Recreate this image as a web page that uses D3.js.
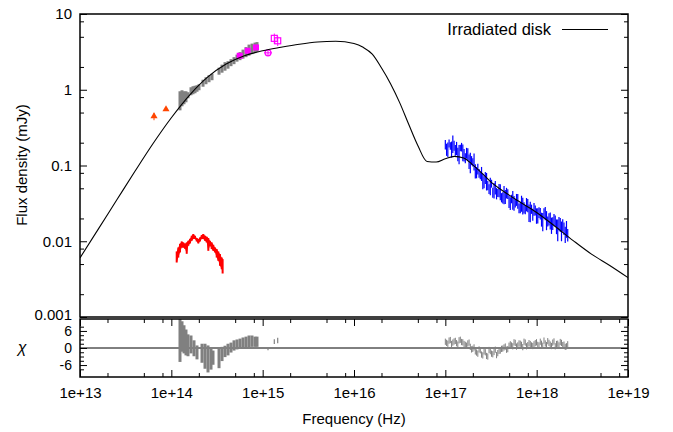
<!DOCTYPE html>
<html><head><meta charset="utf-8">
<script src="https://cdn.jsdelivr.net/npm/d3@7"></script>
<style>
body{margin:0;background:#fff}
text{font-family:"Liberation Sans",Arial,Helvetica,sans-serif}
</style>
</head><body>
<svg id="c" width="673" height="432"></svg>
<script>
// ---------- data ----------
const modelNu = [1e13,1.585e13,2.512e13,3.981e13,6.310e13,1e14,1.585e14,2.512e14,3.981e14,6.310e14,1e15,1.585e15,2.512e15,3.981e15,6.310e15,1e16,1.259e16,1.585e16,1.995e16,2.512e16,3.162e16,3.981e16,5.012e16,6.310e16,7.943e16,1e17,1.259e17,1.585e17,1.995e17,2.512e17,3.162e17,3.981e17,6.310e17,1e18,1.585e18,2.512e18,3.981e18,6.310e18,1e19];
const modelF = [0.00603,0.01445,0.0347,0.0832,0.195,0.427,0.851,1.479,2.188,2.818,3.273,3.631,3.981,4.266,4.365,4.074,3.631,2.951,1.950,1.202,0.676,0.347,0.182,0.113,0.111,0.123,0.132,0.126,0.102,0.0794,0.0603,0.0490,0.0339,0.0240,0.0158,0.0102,0.00676,0.00479,0.00331];

const orangeNu = [6.46e13, 8.74e13];
const orangeF = [0.446, 0.552];
const orangeErr = [0.05, 0.02];

const redNu = [1.145e14,1.192e14,1.244e14,1.299e14,1.352e14,1.412e14,1.474e14,1.534e14,1.601e14,1.671e14,1.740e14,1.816e14,1.896e14,1.974e14,2.061e14,2.151e14,2.239e14,2.337e14,2.440e14,2.540e14,2.651e14,2.767e14,2.881e14,3.007e14,3.139e14,3.269e14,3.412e14,3.561e14,3.644e14];
const redLo = [0.00524,0.00610,0.00711,0.00828,0.00828,0.00796,0.00683,0.00872,0.00935,0.01015,0.01069,0.01069,0.00994,0.00935,0.00994,0.01069,0.01069,0.01015,0.00964,0.00748,0.00872,0.00788,0.00748,0.00711,0.00610,0.00552,0.00474,0.00428,0.00375];
const redHi = [0.00733,0.00828,0.00927,0.00994,0.00964,0.00927,0.00964,0.01015,0.01079,0.01183,0.01246,0.01183,0.01102,0.01069,0.01123,0.01208,0.01246,0.01183,0.01147,0.01102,0.01015,0.00964,0.00899,0.00828,0.00788,0.00733,0.00677,0.00610,0.00581];

const grayNu = [1.244e14,1.309e14,1.376e14,1.447e14,1.522e14,1.642e14,1.727e14,1.816e14,1.910e14,2.009e14,2.223e14,2.396e14,2.585e14,2.788e14,3.327e14,3.589e14,3.869e14,4.173e14,4.501e14,4.856e14,5.236e14,5.648e14,6.093e14,6.571e14,7.087e14,7.643e14,8.245e14,8.670e14];
const grayLo = [0.535,0.605,0.643,0.683,0.772,0.846,0.872,0.899,0.941,0.985,1.096,1.183,1.257,1.336,1.580,1.680,1.785,1.897,2.048,2.177,2.349,2.458,2.574,2.694,2.820,2.953,3.044,3.140];
const grayHi = [0.955,0.985,0.955,0.955,0.927,1.079,1.113,1.130,1.147,1.183,1.357,1.464,1.556,1.629,1.956,2.144,2.313,2.385,2.535,2.694,2.908,3.140,3.387,3.656,3.945,4.068,4.193,4.258];

const magFilledNu = [5.605e14, 6.859e14, 8.456e14];
const magFilledF = [2.81, 3.27, 3.62];
const magFilledErr = [0.12, 0.15, 0.15];
const magCircleNu = [1.144e15];
const magCircleF = [3.07];
const magCircleErr = [0.25];
const magOpenNu = [1.341e15, 1.461e15];
const magOpenF = [4.77, 4.43];
const magOpenErr = [0.75, 0.65];

const xrayNu = [1.000e17,1.065e17,1.134e17,1.208e17,1.287e17,1.370e17,1.459e17,1.554e17,1.655e17,1.763e17,1.877e17,1.999e17,2.129e17,2.268e17,2.415e17,2.572e17,2.739e17,2.917e17,3.107e17,3.309e17,3.524e17,3.753e17,3.997e17,4.257e17,4.533e17,4.828e17,5.142e17,5.476e17,5.832e17,6.211e17,6.615e17,7.045e17,7.503e17,7.990e17,8.510e17,9.063e17,9.652e17,1.028e18,1.095e18,1.166e18,1.242e18,1.322e18,1.408e18,1.500e18,1.597e18,1.701e18,1.812e18,1.929e18,2.055e18,2.188e18,
 1.032e17,1.099e17,1.170e17,1.247e17,1.328e17,1.414e17,1.506e17,1.604e17,1.708e17,1.819e17,1.937e17,2.063e17,2.197e17,2.341e17,2.492e17,2.654e17,2.827e17,3.010e17,3.206e17,3.415e17,3.637e17,3.873e17,4.125e17,4.393e17,4.678e17,4.982e17,5.307e17,5.651e17,6.019e17,6.410e17,6.827e17,7.270e17,7.743e17,8.246e17,8.782e17,9.353e17,9.961e17,1.061e18,1.130e18,1.203e18,1.282e18,1.364e18,1.453e18,1.548e18,1.648e18,1.755e18,1.870e18,1.991e18,2.121e18];
const xrayF = [.190,.165,.182,.197,.160,.143,.171,.152,.126,.143,.113,.111,.0855,.0908,.0738,.0633,.0694,.0546,.0548,.0441,.0518,.0437,.0456,.0379,.0392,.0423,.0320,.0361,.0319,.0345,.0280,.0300,.0264,.0301,.0255,.0228,.0257,.0222,.0234,.0186,.0236,.0184,.0191,.0174,.0188,.0147,.0167,.0165,.0125,.0122,
 .164,.197,.167,.184,.171,.145,.176,.139,.147,.115,.117,.115,.0816,.0794,.0791,.0612,.0633,.0493,.0579,.0477,.0430,.0475,.0379,.0422,.0437,.0338,.0364,.0324,.0357,.0275,.0322,.0279,.0310,.0243,.0267,.0268,.0221,.0242,.0197,.0237,.0195,.0198,.0165,.0196,.0159,.0174,.0141,.0149,.0148];
const xrayErr = [.027,.036,.020,.051,.026,.029,.017,.038,.019,.026,.034,.014,.018,.0145,.0081,.0146,.0125,.0076,.0142,.0066,.0104,.0052,.0109,.0064,.0082,.0063,.0061,.0101,.0041,.0076,.0045,.0075,.0037,.0060,.0077,.0041,.0039,.0051,.0040,.0050,.0047,.0028,.0048,.0033,.0030,.0047,.0035,.0030,.0030,.0023,
 .030,.024,.040,.028,.034,.041,.023,.026,.024,.025,.016,.029,.0139,.0103,.0166,.0110,.0165,.0074,.0069,.0110,.0073,.0095,.0053,.0114,.0070,.0064,.0047,.0071,.0064,.0041,.0077,.0047,.0062,.0063,.0037,.0051,.0051,.0039,.0041,.0036,.0055,.0036,.0040,.0033,.0035,.0035,.0041,.0028,.0037];
const xrayChi = [2.2,1.5,2.8,1.9,2.5,1.2,2.9,2.0,1.1,1.6,0.4,-0.3,-1.2,-2.0,-0.8,-2.6,-1.5,-3.0,-1.1,-2.2,-0.6,-1.8,-0.9,-0.2,0.5,-0.4,1.3,0.6,1.8,0.9,1.5,0.3,1.9,1.0,1.4,0.7,1.7,1.1,2.2,0.8,1.6,2.4,1.2,1.9,0.6,1.5,2.1,1.0,0.4,1.3,
 1.8,2.6,1.4,2.3,1.7,2.7,2.1,1.4,0.8,1.9,-0.5,0.2,-1.6,-0.5,-2.3,-1.2,-2.8,-0.7,-2.0,-1.4,-2.5,-1.0,-0.3,0.2,-0.6,0.8,0.9,2.0,0.5,1.6,1.1,2.2,0.6,1.7,0.9,1.3,2.0,0.9,1.5,2.6,1.0,1.8,0.7,2.3,1.4,0.9,1.8,1.2,0.6];

const residOptNu = [1.244e14,1.309e14,1.376e14,1.447e14,1.522e14,1.642e14,1.771e14,1.910e14,2.167e14,2.337e14,2.520e14,2.719e14,2.860e14,3.327e14,3.589e14,3.869e14,4.173e14,4.501e14,4.856e14,5.236e14,5.648e14,6.093e14,6.571e14,7.087e14,7.643e14,8.245e14,8.670e14];
const residOptLo = [-4.9,-1.3,-1.9,-2.6,-2.9,-1.9,-2.9,-4.0,-5.2,-7.3,-8.6,-7.6,-5.9,-7.1,-4.6,-3.2,-2.6,-1.6,-0.9,-0.5,-0.2,0.1,0.1,0.1,0.4,0.4,0.4];
const residOptHi = [10.2,9.4,8.0,6.5,4.8,4.4,2.7,0.9,1.5,1.5,0.9,-0.2,-0.9,0.1,0.4,0.8,1.5,1.9,2.7,3.0,3.3,3.7,4.0,4.4,4.4,4.0,4.0];
const residMagNu = [1.144e15, 1.341e15, 1.461e15];
const residMagLo = [-0.8, 1.4, 1.7];
const residMagHi = [0.3, 3.1, 3.6];

const xTicks = [1e13,1e14,1e15,1e16,1e17,1e18,1e19];
const xTickLabels = ["1e+13","1e+14","1e+15","1e+16","1e+17","1e+18","1e+19"];
const yTicks = [10,1,0.1,0.01,0.001];
const yTickLabels = ["10","1","0.1","0.01","0.001"];
const chiTicks = [6,0,-6];
const chiTickLabels = ["6","0","-6"];
const chiMinor = [-7.5,-4.5,-3,-1.5,1.5,3,4.5,7.5];
const legendLabel = "Irradiated disk";

// ---------- layout ----------
const L=80,R=628,T=14,MB=317,RT=319,RB=377;
const FONT = 15;
const svg = d3.select("#c");
const x = d3.scaleLog().domain([1e13,1e19]).range([L,R]);
const y = d3.scaleLog().domain([0.001,10]).range([MB,T]);
const yc = d3.scaleLinear().domain([-10.2,10.2]).range([RB,RT]);

const xMinor = [], yMinor = [];
[13,14,15,16,17,18].forEach(d=>[2,5,8].forEach(m=>xMinor.push(m*Math.pow(10,d))));
[-3,-2,-1,0].forEach(d=>[2,5,8].forEach(m=>yMinor.push(m*Math.pow(10,d))));

function ax(axis, tx, ty){
  const g = svg.append("g").attr("transform",`translate(${tx},${ty})`).call(axis);
  g.select(".domain").remove();
  g.selectAll("line").attr("stroke","#000").attr("stroke-width",1);
  g.selectAll("text").attr("font-size",FONT).attr("fill","#000")
   .attr("font-family",'"Liberation Sans",Arial,sans-serif');
  return g;
}
const gy = ax(d3.axisLeft(y).tickValues(yTicks).tickFormat((d,i)=>yTickLabels[i]).tickSize(-7).tickPadding(8), L, 0);
gy.selectAll("text").filter(d=>d===0.001).attr("dy","0.18em");
ax(d3.axisLeft(y).tickValues(yMinor).tickFormat("").tickSize(-4), L, 0);
ax(d3.axisRight(y).tickValues(yTicks).tickFormat("").tickSize(-7), R, 0);
ax(d3.axisRight(y).tickValues(yMinor).tickFormat("").tickSize(-4), R, 0);
ax(d3.axisBottom(x).tickValues(xTicks).tickFormat((d,i)=>xTickLabels[i]).tickSize(-7).tickPadding(10), 0, RB);
ax(d3.axisBottom(x).tickValues(xMinor).tickFormat("").tickSize(-4), 0, RB);
ax(d3.axisTop(x).tickValues(xTicks).tickFormat("").tickSize(-7), 0, RT);
ax(d3.axisTop(x).tickValues(xMinor).tickFormat("").tickSize(-4), 0, RT);
const gc = ax(d3.axisLeft(yc).tickValues(chiTicks).tickFormat((d,i)=>chiTickLabels[i]).tickSize(-7).tickPadding(8), L, 0);
gc.selectAll("text").attr("font-size",14);
ax(d3.axisLeft(yc).tickValues(chiMinor).tickFormat("").tickSize(-4), L, 0);
ax(d3.axisRight(yc).tickValues(chiTicks).tickFormat("").tickSize(-7), R, 0);
ax(d3.axisRight(yc).tickValues(chiMinor).tickFormat("").tickSize(-4), R, 0);

svg.append("line").attr("x1",L).attr("x2",R).attr("y1",yc(0)).attr("y2",yc(0)).attr("stroke","#000").attr("stroke-width",1);

svg.append("clipPath").attr("id","clipMain").append("rect").attr("x",L).attr("y",T).attr("width",R-L).attr("height",MB-T);
svg.append("clipPath").attr("id","clipRes").append("rect").attr("x",L).attr("y",RT).attr("width",R-L).attr("height",RB-RT);
const gm = svg.append("g").attr("clip-path","url(#clipMain)");
const gr = svg.append("g").attr("clip-path","url(#clipRes)");

function vbars(g, nu, lo, hi, color, w, scaleY){
  g.append("g").selectAll("line").data(nu).join("line")
    .attr("x1",d=>x(d)).attr("x2",d=>x(d))
    .attr("y1",(d,i)=>scaleY(lo[i])).attr("y2",(d,i)=>scaleY(hi[i]))
    .attr("stroke",color).attr("stroke-width",w);
}

// red spectrum
gm.append("path").datum(redNu).attr("fill","#ff0000")
  .attr("d", d3.area().x(d=>x(d)).y0((d,i)=>y(redLo[i])).y1((d,i)=>y(redHi[i])));
vbars(gm, redNu, redLo, redHi, "#ff0000", 2, y);

// gray optical/NIR
vbars(gm, grayNu, grayLo, grayHi, "#808080", 3, y);

// orange triangles
vbars(gm, orangeNu, orangeNu.map((d,i)=>orangeF[i]-orangeErr[i]), orangeNu.map((d,i)=>orangeF[i]+orangeErr[i]), "#ff4500", 1, y);
gm.append("g").selectAll("path").data(orangeNu).join("path")
  .attr("transform",(d,i)=>`translate(${x(d)},${y(orangeF[i])})`)
  .attr("d", d3.symbol(d3.symbolTriangle, 22)).attr("fill","#ff4500");

// magenta
const MAG = "#ff00ff";
vbars(gm, magFilledNu, magFilledNu.map((d,i)=>magFilledF[i]-magFilledErr[i]), magFilledNu.map((d,i)=>magFilledF[i]+magFilledErr[i]), MAG, 1, y);
gm.append("g").selectAll("rect").data(magFilledNu).join("rect")
  .attr("x",d=>x(d)-3).attr("y",(d,i)=>y(magFilledF[i])-3).attr("width",6).attr("height",6).attr("fill",MAG);
vbars(gm, magCircleNu, magCircleNu.map((d,i)=>magCircleF[i]-magCircleErr[i]), magCircleNu.map((d,i)=>magCircleF[i]+magCircleErr[i]), MAG, 1, y);
gm.append("g").selectAll("circle").data(magCircleNu).join("circle")
  .attr("cx",d=>x(d)).attr("cy",(d,i)=>y(magCircleF[i])).attr("r",3).attr("fill","none").attr("stroke",MAG).attr("stroke-width",1.2);
gm.append("g").selectAll("line").data(magCircleNu).join("line")
  .attr("x1",d=>x(d)-4).attr("x2",d=>x(d)+4).attr("y1",(d,i)=>y(magCircleF[i])).attr("y2",(d,i)=>y(magCircleF[i])).attr("stroke",MAG);
vbars(gm, magOpenNu, magOpenNu.map((d,i)=>magOpenF[i]-magOpenErr[i]), magOpenNu.map((d,i)=>magOpenF[i]+magOpenErr[i]), MAG, 1, y);
gm.append("g").selectAll("rect").data(magOpenNu).join("rect")
  .attr("x",d=>x(d)-3).attr("y",(d,i)=>y(magOpenF[i])-3).attr("width",6).attr("height",6)
  .attr("fill","none").attr("stroke",MAG).attr("stroke-width",1.2);

// x-ray
vbars(gm, xrayNu, xrayNu.map((d,i)=>xrayF[i]-xrayErr[i]), xrayNu.map((d,i)=>xrayF[i]+xrayErr[i]), "#0000ff", 1.2, y);

// model
gm.append("path").datum(modelNu).attr("fill","none").attr("stroke","#000").attr("stroke-width",1.1)
  .attr("d", d3.line().x(d=>x(d)).y((d,i)=>y(modelF[i])).curve(d3.curveMonotoneX));

// residuals
vbars(gr, residOptNu, residOptLo, residOptHi, "#808080", 3, yc);
vbars(gr, residMagNu, residMagLo, residMagHi, "#808080", 1.2, yc);
vbars(gr, xrayNu, xrayChi.map(v=>v-1.1), xrayChi.map(v=>v+1.1), "#808080", 1, yc);

// frames
svg.append("rect").attr("x",L).attr("y",T).attr("width",R-L).attr("height",MB-T).attr("fill","none").attr("stroke","#000").attr("stroke-width",1.5);
svg.append("rect").attr("x",L).attr("y",RT).attr("width",R-L).attr("height",RB-RT).attr("fill","none").attr("stroke","#000").attr("stroke-width",1.5);

// legend
svg.append("text").attr("x",551).attr("y",35).attr("text-anchor","end").attr("font-size",16.5).text(legendLabel);
svg.append("line").attr("x1",562).attr("x2",608).attr("y1",29.5).attr("y2",29.5).attr("stroke","#000").attr("stroke-width",1.1);

// axis titles
svg.append("text").attr("transform",`translate(27,165) rotate(-90)`).attr("text-anchor","middle").attr("font-size",FONT).text("Flux density (mJy)");
svg.append("text").attr("x",22).attr("y",353).attr("text-anchor","middle").attr("font-size",16)
  .attr("font-family",'"DejaVu Serif",serif').attr("font-style","italic").text("χ");
svg.append("text").attr("x",(L+R)/2).attr("y",424).attr("text-anchor","middle").attr("font-size",FONT).text("Frequency (Hz)");
</script>
</body></html>
